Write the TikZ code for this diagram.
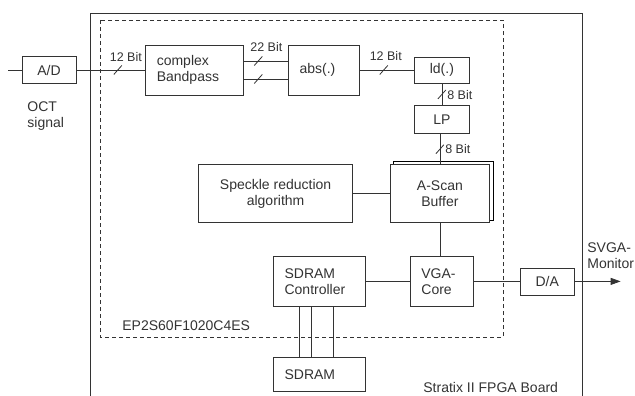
\documentclass[tikz,border=0pt]{standalone}
\usepackage{fontspec}
\setmainfont{Liberation Sans}
\usetikzlibrary{arrows.meta, positioning, backgrounds, calc}

\begin{document}
\begin{tikzpicture}[
    x=1pt, y=-1pt,
    font=\fontsize{14}{16}\selectfont,
    line width=0.8pt, color=black!80,
    box/.style={draw, fill=white, inner sep=2pt, align=center},
    lbox/.style={box, align=left, inner xsep=11pt},
    bit/.style={font=\fontsize{12.5}{14}\selectfont, inner sep=1pt},
    txt/.style={inner sep=0pt, align=left},
    chip/.style={dash pattern=on 4pt off 3pt},
    arr/.style={-{Triangle[length=10pt, width=7pt]}},
    bus/.pic={\draw (-4,4.5) -- (4,-4.5);},
]
    \useasboundingbox (0,0) rectangle (635,396);

    %==================== FRAMES ====================
    \draw (90,396) |- (582,13) -- (582,396);
    \draw[chip] (100,20) rectangle (503,337);

    %==================== SIGNAL PATH ====================
    \node[box, minimum width=54pt, minimum height=27pt] (ad) at (49,70) {A/D};
    \node[lbox, text width=76pt, minimum height=50pt, right=69pt of ad] (bp) {complex\\Bandpass};
    \node[lbox, text width=49pt, minimum height=50pt, right=44pt of bp] (abs) {abs(.)};
    \node[box, minimum width=55pt, minimum height=26pt, right=54pt of abs] (ld) {ld(.)};
    \node[box, minimum width=55pt, minimum height=28pt, below=22pt of ld] (lp) {LP};

    % buffer and speckle reduction
    \node[box, minimum width=99pt, minimum height=58pt, below=30pt of lp, xshift=-2pt] (asb) {A-Scan\\Buffer};
    \node[box, minimum width=154pt, minimum height=58pt, left=37pt of asb] (spk) {Speckle reduction\\algorithm};

    % memory and output
    \node[lbox, text width=41pt, minimum height=50pt, below=33pt of asb, xshift=2pt] (vga) {VGA-\\Core};
    \node[lbox, text width=70pt, minimum height=50pt, left=44pt of vga] (sdc) {SDRAM\\Controller};
    \node[lbox, text width=70pt, minimum height=34pt, below=50pt of sdc] (sdr) {SDRAM};
    \node[box, minimum width=54pt, minimum height=27pt, right=46pt of vga] (da) {D/A};

    % stacked copy behind the buffer
    \begin{scope}[on background layer]
        \draw[fill=white] ([shift={(3pt,3pt)}]asb.south west) rectangle ([shift={(3pt,3pt)}]asb.north east);
    \end{scope}

    %==================== TEXTS ====================
    \node[txt, anchor=north west] (oct) at (27,101) {OCT\\signal};
    \node[txt, anchor=base west] (fpga) at (122,330) {EP2S60F1020C4ES};
    \node[txt, anchor=base west] (board) at (423,392) {Stratix II FPGA Board};
    \node[txt, anchor=north west] (svga) at (587,242) {SVGA-\\Monitor};

    %==================== CONNECTORS ====================
    \coordinate (in) at (8,70);
    \draw (in) -- (ad);
    \draw (ad) -- coordinate[pos=.6] (s1) (bp);
    \draw ([yshift=9pt]bp.east) -- coordinate[pos=.32] (s2) ([yshift=9pt]abs.west);
    \draw ([yshift=-9pt]bp.east) -- coordinate[pos=.32] (s3) ([yshift=-9pt]abs.west);
    \draw (abs) -- coordinate[pos=.44] (s4) (ld);
    \draw (ld) -- coordinate[pos=.5] (s5) (lp);
    \draw (asb.north |- lp.south) -- coordinate[pos=.5] (s6) (asb.north);
    \draw (spk) -- (asb);
    \draw (asb.south) -- (asb.south |- vga.north);
    \draw (sdc) -- (vga);
    \draw (vga) -- (da);
    \coordinate[right=46pt of da] (mon);
    \draw[arr] (da) -- (mon);
    \foreach \dx in {26,38,60}
        \draw ([xshift=\dx pt]sdc.south west) -- ([xshift=\dx pt]sdr.north west);

    % bus widths
    \foreach \s in {s1,s2,s3,s4,s5,s6}
        \pic at (\s) {bus};
    \node[bit] (b1) at ($(s1)+(8,-13)$) {12 Bit};
    \node[bit] (b2) at ($(s2)+(8,-14)$) {22 Bit};
    \node[bit] (b3) at ($(s4)+(2,-14)$) {12 Bit};
    \node[bit, anchor=west] (b4) at ($(s5)+(4,1)$) {8 Bit};
    \node[bit, anchor=west] (b5) at ($(s6)+(4,0)$) {8 Bit};

\end{tikzpicture}
\end{document}
